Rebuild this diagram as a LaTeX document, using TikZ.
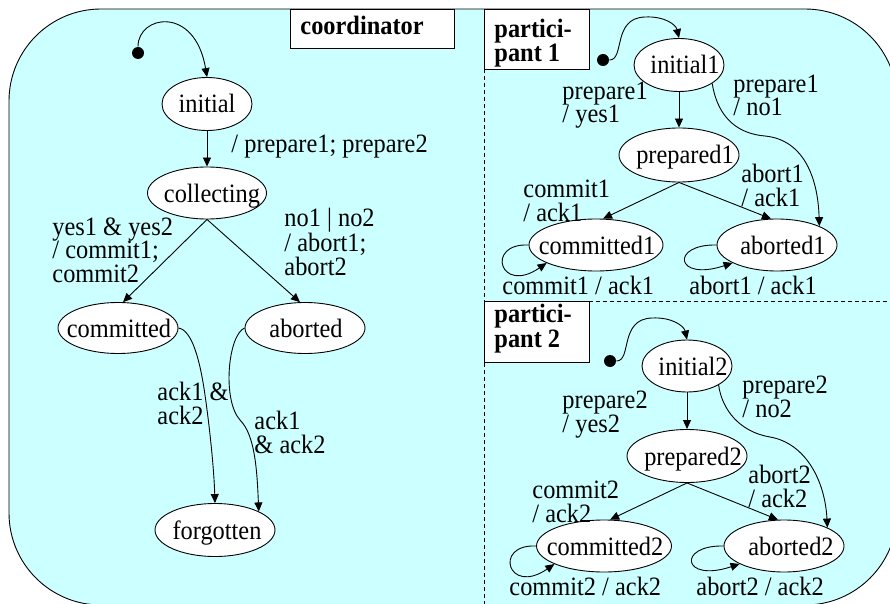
\documentclass[tikz,border=0pt]{standalone}
\usepackage{fontspec}
\setmainfont[FakeStretch=0.92]{Liberation Serif}
\usetikzlibrary{shapes.geometric,arrows.meta}
\definecolor{panelcyan}{RGB}{204,255,255}
% centred state text, optionally nudged sideways
\newcommand\statetext[2]{\makebox[0pt]{\hspace*{#1}#2\hspace*{-#1}}}
\begin{document}
\begin{tikzpicture}[x=1pt,y=-1pt,line width=0.9pt,
  font=\fontsize{26.5}{23.5}\selectfont,
  state/.style={ellipse,draw,fill=white,inner sep=0pt,text height=18pt,text depth=0pt},
  lbl/.style={anchor=base west,inner sep=0pt,align=left},
  title/.style={anchor=base west,inner sep=0pt,align=left,font=\fontsize{26.5}{21}\selectfont\bfseries},
  trans/.style={draw,-{Triangle[length=9pt,width=8pt]}},
  startdot/.style={circle,fill=black,inner sep=0pt,minimum size=12pt},
  titlebox/.style={draw,fill=white,anchor=north west,inner sep=0pt},
  sep/.style={line width=0.8pt,dash pattern=on 4pt off 3pt}]
\clip (0,0) rectangle (890,604);
\useasboundingbox (0,0) rectangle (890,604);

% panel
\draw[fill=panelcyan,rounded corners=92pt] (9,9) rectangle (897,605);
\draw[sep] (484,69) -- (484,610);
\draw[sep] (484,301) -- (900,301);

% headings (multi-line texts are placed by the baseline of their last line)
\node[titlebox,minimum width=164pt,minimum height=39pt] (coordbox) at (290,9) {};
\node[title] (coordtitle) at (300,35) {coordinator};
\node[titlebox,minimum width=105pt,minimum height=60pt] (partbox1) at (484,9) {};
\node[title] (parttitle1) at (494,62) {partici-\\pant 1};
\node[titlebox,minimum width=105pt,minimum height=61pt] (partbox2) at (484,301) {};
\node[title] (parttitle2) at (494,347) {partici-\\pant 2};

% ---------- coordinator ----------
\node[startdot] (dot0) at (138,53) {};
\node[state,minimum width=90pt,minimum height=53pt] (initial) at (207,104) {\statetext{0pt}{initial}};
\node[state,minimum width=119pt,minimum height=52pt] (collecting) at (207,193) {\statetext{5pt}{collecting}};
\node[state,minimum width=120pt,minimum height=51pt] (committed) at (118,328) {\statetext{1pt}{committed}};
\node[state,minimum width=120pt,minimum height=51pt] (aborted) at (305,328) {\statetext{1pt}{aborted}};
\node[state,minimum width=120pt,minimum height=53pt] (forgotten) at (215,530) {\statetext{2pt}{forgotten}};

\draw[trans] (dot0) .. controls (138,15) and (195,5) .. (initial.north);
\draw[trans] (initial) -- (collecting);
\draw[trans] (collecting.south) -- (committed.79);
\draw[trans] (collecting.south) -- (aborted.101);
\draw[trans] (committed.east) .. controls (192,330) and (200,360) .. (205,395)
  .. controls (210,430) and (214,470) .. (forgotten.north);
\draw[trans] (aborted.west) .. controls (228,335) and (222,400) .. (240,420)
  .. controls (255,435) and (257,470) .. (forgotten.23);

\node[lbl] (l-prep) at (231,153) {/ prepare1; prepare2};
\node[lbl] (l-yes) at (52,282) {yes1 \& yes2\\/ commit1;\\commit2};
\node[lbl] (l-no) at (284,275) {no1 | no2\\/ abort1;\\abort2};
\node[lbl] (l-ackc) at (157,424) {ack1 \&\\ack2};
\node[lbl] (l-acka) at (254,453) {ack1\\\& ack2};

% ---------- participant 1 ----------
\node[startdot] (dot1) at (603,60) {};
\node[state,minimum width=90pt,minimum height=53pt] (initial1) at (679,65) {\statetext{6pt}{initial1}};
\node[state,minimum width=120pt,minimum height=54pt] (prepared1) at (679,155) {\statetext{6pt}{prepared1}};
\node[state,minimum width=134pt,minimum height=52pt] (committed1) at (596,245) {\statetext{1pt}{committed1}};
\node[state,minimum width=120pt,minimum height=52pt] (aborted1) at (777,245) {\statetext{6pt}{aborted1}};

\draw[trans] (dot1) .. controls (625,60) and (612,18) .. (645,17)
  .. controls (665,16) and (676,25) .. (initial1.north);
\draw[trans] (initial1) -- (prepared1);
\draw[trans] (prepared1.south) -- (committed1.75);
\draw[trans] (prepared1.south) -- (aborted1.103);
\draw[trans] (initial1.-29) .. controls (718,120) and (740,134) .. (765,136)
  .. controls (805,140) and (818,180) .. (aborted1.24);
\draw[trans] (committed1.west) .. controls (485,243) and (500,295) .. (committed1.200);
\draw[trans] (aborted1.west) .. controls (670,244) and (675,282) .. (aborted1.202);

\node[lbl] (l-yes1) at (562,123) {prepare1\\/ yes1};
\node[lbl] (l-no1) at (733,116) {prepare1\\/ no1};
\node[lbl] (l-com1) at (523,221) {commit1\\/ ack1};
\node[lbl] (l-abo1) at (741,206) {abort1\\/ ack1};
\node[lbl] (l-comloop1) at (502,294) {commit1 / ack1};
\node[lbl] (l-aboloop1) at (689,294) {abort1 / ack1};

% ---------- participant 2 ----------
\node[startdot] (dot2) at (610,361) {};
\node[state,minimum width=90pt,minimum height=52pt] (initial2) at (687,366) {\statetext{6pt}{initial2}};
\node[state,minimum width=120pt,minimum height=53pt] (prepared2) at (687,456) {\statetext{6pt}{prepared2}};
\node[state,minimum width=135pt,minimum height=52pt] (committed2) at (604,546) {\statetext{1pt}{committed2}};
\node[state,minimum width=120pt,minimum height=52pt] (aborted2) at (784,546) {\statetext{7pt}{aborted2}};

\draw[trans] (dot2) .. controls (632,361) and (619,319) .. (652,318)
  .. controls (672,317) and (684,326) .. (initial2.north);
\draw[trans] (initial2) -- (prepared2);
\draw[trans] (prepared2.south) -- (committed2.77);
\draw[trans] (prepared2.south) -- (aborted2.103);
\draw[trans] (initial2.-31) .. controls (722,410) and (740,432) .. (770,437)
  .. controls (805,443) and (825,480) .. (aborted2.23);
\draw[trans] (committed2.west) .. controls (493,544) and (508,596) .. (committed2.200);
\draw[trans] (aborted2.west) .. controls (677,545) and (682,583) .. (aborted2.202);

\node[lbl] (l-yes2) at (562,432) {prepare2\\/ yes2};
\node[lbl] (l-no2) at (742,417) {prepare2\\/ no2};
\node[lbl] (l-com2) at (532,522) {commit2\\/ ack2};
\node[lbl] (l-abo2) at (748,507) {abort2\\/ ack2};
\node[lbl] (l-comloop2) at (509,595) {commit2 / ack2};
\node[lbl] (l-aboloop2) at (696,595) {abort2 / ack2};
\end{tikzpicture}
\end{document}
